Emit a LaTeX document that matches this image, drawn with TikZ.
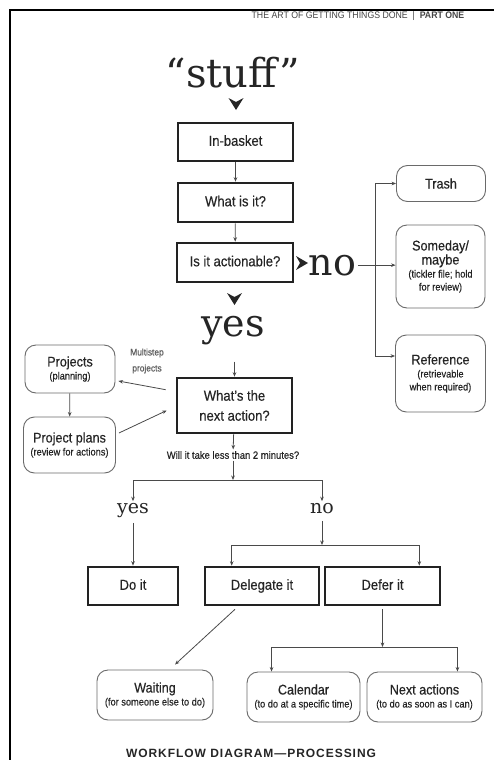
\documentclass[tikz,border=0pt]{standalone}
\usepackage{fontspec}
\setmainfont{Liberation Sans}
\newfontfamily\condf[FakeStretch=0.9,FakeBold=0.4]{Liberation Sans}
\newfontfamily\subf[FakeStretch=0.88,FakeBold=0.3]{Liberation Sans}
\newfontfamily\bigserif{DejaVu Serif}
\newfontfamily\hdrf[FakeStretch=0.92]{Liberation Sans}
\newfontfamily\capsf[LetterSpace=8]{Liberation Sans}
\usetikzlibrary{arrows.meta,calc}
\definecolor{txtc}{HTML}{252525}
\definecolor{boxc}{HTML}{222222}
\definecolor{rboxc}{HTML}{6A6A6A}
\definecolor{linec}{HTML}{4A4A4A}
\newcommand\mytitle[1]{{\condf\fontsize{14}{17}\selectfont #1}}
\begin{document}
\begin{tikzpicture}[x=1pt,y=-1pt,
  tbox/.style={draw=boxc, line width=2.6pt, inner sep=0pt, text=txtc, align=center, font=\condf\fontsize{14.5}{20}\selectfont},
  oneline/.style={text height=10.5pt, text depth=3pt},
  rbox/.style={draw=rboxc, line width=0.9pt, rounded corners=11pt, inner sep=0pt, text=txtc, align=center, font=\subf\fontsize{10.5}{13}\selectfont},
  arr/.style={draw=linec, line width=0.8pt, -{Stealth[length=4.5pt,width=3.6pt]}},
  lbl/.style={inner sep=1.5pt, text=txtc},
  bigs/.style={lbl, font=\bigserif\fontsize{38}{40}\selectfont},
  meds/.style={lbl, font=\bigserif\fontsize{19}{21}\selectfont}
]
\useasboundingbox (0,0) rectangle (494,760);
\fill[white] (0,0) rectangle (494,760);
\clip (0,0) rectangle (494,760);
\draw[line width=2.2pt, black] (10,761) -- (10,10) -- (495,10);
\node[lbl, anchor=base east, text=txtc!85, font=\hdrf\fontsize{9.5}{10}\selectfont] (hdr) at (466,19) {THE ART OF GETTING THINGS DONE \ | \ \textbf{PART ONE}};
% top chain
\node[lbl, anchor=base, font=\bigserif\fontsize{40}{42}\selectfont] (stuff) at (233,88) {“stuff”};
\fill[txtc] (228.5,98) -- (236,102) -- (243.5,98) -- (236,110) -- cycle;
\node[tbox, oneline, minimum width=115pt, minimum height=38pt] (inbasket) at (235.5,142) {In-basket};
\node[tbox, oneline, minimum width=115pt, minimum height=39pt] (whatis) at (235.5,202.5) {What is it?};
\node[tbox, oneline, minimum width=116pt, minimum height=39pt] (actionable) at (235,262.5) {Is it actionable?};
\draw[arr] (inbasket) -- (whatis);
\draw[arr] (whatis) -- (actionable);
% no branch
\fill[txtc] (296,256) -- (300,263) -- (296,270) -- (308,263) -- cycle;
\node[bigs, anchor=base west] (no) at (307,275) {no};
\node[rbox, minimum width=89pt, minimum height=36pt] (trash) at (441,183.5) {\mytitle{Trash}};
\node[rbox, minimum width=89pt, minimum height=83pt] (someday) at (440.5,266.5) {\mytitle{Someday/}\\\mytitle{maybe}\\(tickler file; hold\\for review)};
\node[rbox, minimum width=90pt, minimum height=77pt] (reference) at (440.5,373.5) {\mytitle{Reference}\\(retrievable\\when required)};
\coordinate (vb) at (375,265);
\draw[arr] (no.east) -- (no.east -| someday.west);
\draw[arr] (vb) |- (trash.west);
\draw[arr] (vb) |- (reference.west |- 0,356);
% yes branch
\fill[txtc] (227,293) -- (234.5,297) -- (242,293) -- (234.5,305) -- cycle;
\node[bigs, anchor=base] (yes) at (233,336) {yes};
\node[tbox, minimum width=115pt, minimum height=55pt] (nextaction) at (234.5,405.5) {What’s the\\next action?};
\draw[arr] ($(nextaction.north)+(0,-15)$) -- (nextaction.north);
\node[rbox, minimum width=90pt, minimum height=48pt] (projects) at (70,369) {\mytitle{Projects}\\(planning)};
\node[rbox, minimum width=92pt, minimum height=56pt] (plans) at (69.5,445) {\mytitle{Project plans}\\(review for actions)};
\draw[arr] (projects) -- (plans);
\node[lbl, text=txtc!75, align=center, font=\subf\fontsize{9.5}{16}\selectfont] (multi) at (147,361) {Multistep\\projects};
\draw[arr] ($(nextaction.north west)+(-10,13)$) -- ($(projects.east)+(3,12)$);
\draw[arr] ($(plans.east)+(3,-12)$) -- ($(nextaction.west)+(-9,5)$);
% two minutes
\node[lbl, font=\condf\fontsize{10.5}{12}\selectfont] (q) at (233,455) {Will it take less than 2 minutes?};
\draw[arr] (nextaction) -- (q);
\coordinate (f1) at (233,480);
\draw[arr] (q) -- (f1);
\node[meds, anchor=base] (yes2) at (133,513) {yes};
\node[meds, anchor=base] (no2) at (322,513) {no};
\draw[arr] (f1) -| (yes2);
\draw[arr] (f1) -| (no2);
\node[tbox, oneline, minimum width=90pt, minimum height=38pt] (doit) at (133,586) {Do it};
\node[tbox, oneline, minimum width=114pt, minimum height=38pt] (delegate) at (262,586) {Delegate it};
\node[tbox, oneline, minimum width=115pt, minimum height=38pt] (defer) at (382.5,586) {Defer it};
\draw[arr] ($(yes2.south)+(0,4)$) -- (doit);
\coordinate (f2) at (322,545);
\draw[arr] ($(no2.south)+(0,6)$) -- (f2);
\draw[arr] (f2) -| ($(delegate.north west)+(28,0)$);
\draw[arr] (f2) -| ($(defer.north east)+(-22,0)$);
% bottom row
\node[rbox, minimum width=116pt, minimum height=50pt] (waiting) at (155,695) {\mytitle{Waiting}\\(for someone else to do)};
\node[rbox, minimum width=113pt, minimum height=50pt] (calendar) at (303.5,697) {\mytitle{Calendar}\\(to do at a specific time)};
\node[rbox, minimum width=115pt, minimum height=50pt] (nextactions) at (424.5,697) {\mytitle{Next actions}\\(to do as soon as I can)};
\draw[arr] ($(delegate.south)+(-27,3)$) -- ($(waiting.north)+(20,-5)$);
\coordinate (f3) at (382.5,647);
\draw[arr] ($(defer.south)+(0,3)$) -- (f3);
\draw[arr] (f3) -| ($(calendar.north west)+(25,0)$);
\draw[arr] (f3) -| ($(nextactions.north east)+(-25,0)$);
\node[lbl, anchor=base, font=\capsf\bfseries\fontsize{12}{14}\selectfont] (caption) at (251,757.5) {WORKFLOW DIAGRAM—PROCESSING};
\end{tikzpicture}
\end{document}
